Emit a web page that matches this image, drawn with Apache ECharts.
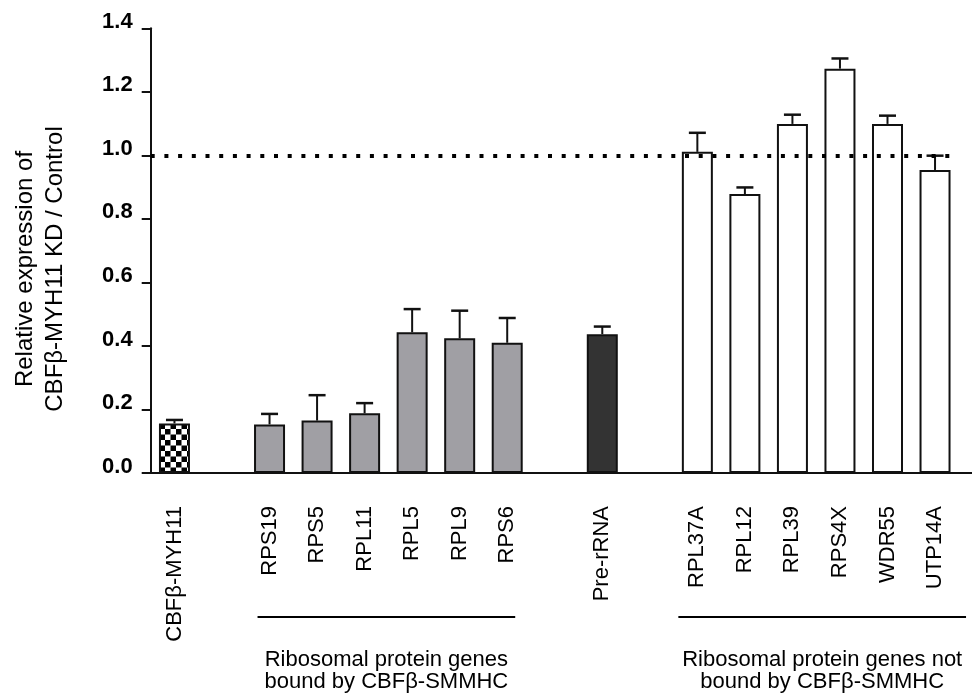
<!DOCTYPE html>
<html>
<head>
<meta charset="utf-8">
<script src="https://cdn.jsdelivr.net/npm/echarts@6/dist/echarts.min.js"></script>
<style>
html,body{margin:0;padding:0;background:#fff;}
#chart{width:972px;height:695px;}
</style>
</head>
<body>
<div id="chart"></div>
<script>
// ---- data ----
const categories = ['CBFβ-MYH11', '', 'RPS19', 'RPS5', 'RPL11', 'RPL5', 'RPL9', 'RPS6', '', 'Pre-rRNA', '', 'RPL37A', 'RPL12', 'RPL39', 'RPS4X', 'WDR55', 'UTP14A'];
const values = [0.156, null, 0.153, 0.165, 0.188, 0.443, 0.424, 0.410, null, 0.437, null, 1.011, 0.878, 1.099, 1.273, 1.099, 0.954];
const errors = [0.011, null, 0.033, 0.080, 0.032, 0.073, 0.087, 0.078, null, 0.024, null, 0.060, 0.021, 0.029, 0.032, 0.026, 0.045];
const fillGroups = ['checker', null, 'bound', 'bound', 'bound', 'bound', 'bound', 'bound', null, 'rrna', null, 'notbound', 'notbound', 'notbound', 'notbound', 'notbound', 'notbound'];
const yTickValues = [0.0, 0.2, 0.4, 0.6, 0.8, 1.0, 1.2, 1.4];
const referenceLevel = 1.0;
const yTitle = 'Relative expression of\nCBFβ-MYH11 KD / Control';
const groupLabels = ['Ribosomal protein genes\nbound by CBFβ-SMMHC', 'Ribosomal protein genes not\nbound by CBFβ-SMMHC'];
const groupRanges = [['RPS19', 'RPS6'], ['RPL37A', 'UTP14A']];

// ---- styles ----
const FONT = '"Liberation Sans", Arial, Helvetica, sans-serif';
function checkerCanvas() {
  const c = document.createElement('canvas');
  c.width = 11; c.height = 11;
  const g = c.getContext('2d');
  g.fillStyle = '#fff'; g.fillRect(0, 0, 11, 11);
  g.fillStyle = '#000';
  g.fillRect(0, 0, 5.5, 5.5); g.fillRect(5.5, 5.5, 5.5, 5.5);
  return c;
}
const fillStyles = {
  checker: { image: checkerCanvas(), repeat: 'repeat' },
  bound: '#a09fa4',
  rrna: '#333333',
  notbound: '#ffffff'
};

const chart = echarts.init(document.getElementById('chart'), null, { renderer: 'canvas' });

const barData = values.map((v, i) => v == null ? '-' : {
  value: v,
  itemStyle: { color: fillStyles[fillGroups[i]] }
});
const errData = [];
values.forEach((v, i) => { if (v != null) errData.push([i, v, v + errors[i]]); });

const gridLeft = 150.7, gridTop = 28.3, gridBottom = 222, gridRight = 13.2;

const option = {
  animation: false,
  backgroundColor: '#fff',
  grid: { left: gridLeft, top: gridTop, right: gridRight, bottom: gridBottom, containLabel: false },
  xAxis: {
    type: 'category',
    data: categories,
    axisLine: { lineStyle: { color: '#111', width: 2 } },
    axisTick: { alignWithLabel: true, length: 8, lineStyle: { color: '#111', width: 2 } },
    axisLabel: {
      interval: 0, rotate: 90, margin: 33,
      color: '#000', fontFamily: FONT, fontSize: 22
    },
    splitLine: { show: false }
  },
  yAxis: {
    type: 'value',
    min: yTickValues[0],
    max: yTickValues[yTickValues.length - 1],
    interval: yTickValues[1] - yTickValues[0],
    axisLine: { show: true, lineStyle: { color: '#111', width: 2 } },
    axisTick: { show: true, length: 9, lineStyle: { color: '#111', width: 2 } },
    axisLabel: {
      margin: 18, color: '#000', fontFamily: FONT, fontSize: 22, fontWeight: 'bold',
      verticalAlign: 'bottom', lineHeight: 13,
      formatter: v => v.toFixed(1)
    },
    splitLine: { show: false }
  },
  series: [
    {
      type: 'line',
      data: [],
      z: 1,
      silent: true,
      markLine: {
        silent: true,
        symbol: ['none', 'none'],
        label: { show: false },
        lineStyle: { color: '#000', width: 4, type: [4, 9.7] },
        data: [{ yAxis: referenceLevel }]
      }
    },
    {
      type: 'bar',
      data: barData,
      barWidth: 31,
      z: 3,
      itemStyle: { borderColor: '#111', borderWidth: 2 }
    },
    {
      type: 'custom',
      z: 4,
      data: errData,
      renderItem: function (params, api) {
        const x = api.value(0);
        const base = api.coord([x, api.value(1)]);
        const top = api.coord([x, api.value(2)]);
        const half = 8.5;
        return {
          type: 'group',
          children: [
            { type: 'line', shape: { x1: base[0], y1: base[1], x2: top[0], y2: top[1] }, style: { stroke: '#111', lineWidth: 2 } },
            { type: 'line', shape: { x1: top[0] - half, y1: top[1], x2: top[0] + half, y2: top[1] }, style: { stroke: '#111', lineWidth: 2.5 } }
          ]
        };
      }
    }
  ]
};
chart.setOption(option);

// annotations: y-axis title, group brackets and labels
const elements = [];
elements.push({
  type: 'text',
  x: 40, y: 269, rotation: Math.PI / 2,
  style: { text: yTitle, font: '24px ' + FONT, fill: '#000', textAlign: 'center', textVerticalAlign: 'middle', lineHeight: 30 }
});
const lineOffsets = [[-12, 8], [-19, 31]];
groupRanges.forEach((r, k) => {
  const x1 = chart.convertToPixel({ xAxisIndex: 0 }, r[0]) + lineOffsets[k][0];
  const x2 = chart.convertToPixel({ xAxisIndex: 0 }, r[1]) + lineOffsets[k][1];
  elements.push({ type: 'line', shape: { x1: x1, y1: 617, x2: x2, y2: 617 }, style: { stroke: '#000', lineWidth: 2 } });
  elements.push({
    type: 'text', x: (x1 + x2) / 2, y: 671,
    style: { text: groupLabels[k], font: '22px ' + FONT, fill: '#000', textAlign: 'center', textVerticalAlign: 'middle', lineHeight: 22 }
  });
});
// extend baseline to the right edge as in the reference
const base0 = chart.convertToPixel({ yAxisIndex: 0 }, 0);
elements.push({ type: 'line', shape: { x1: 972 - gridRight - 1, y1: base0, x2: 972, y2: base0 }, style: { stroke: '#111', lineWidth: 2 } });
chart.setOption({ graphic: { elements: elements } });
</script>
</body>
</html>
